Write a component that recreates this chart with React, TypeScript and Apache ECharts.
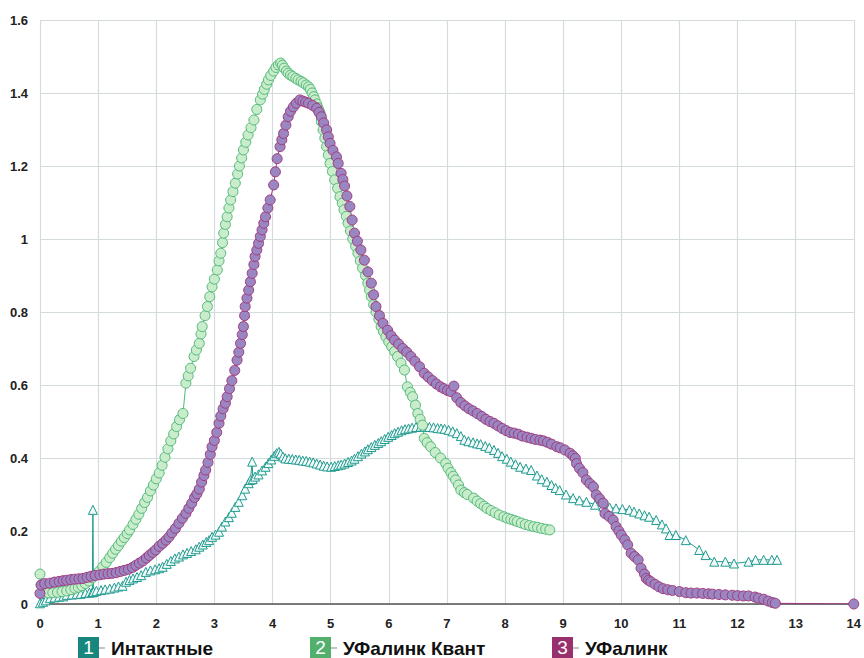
import React, { useEffect, useRef } from "react";
import * as echarts from "echarts";

const xTicks = { min: 0, max: 14, interval: 1 };
const yTicks = { min: 0, max: 1.6, interval: 0.2 };

const legendNames = ["Интактные", "УФалинк Квант", "УФалинк"];
const legendNumbers = ["1", "2", "3"];

const intact: number[][] = [
  [0,0.002],[0.05,0.006],[0.1,0.01],[0.17,0.016],[0.25,0.018],[0.33,0.02],[0.4,0.021],[0.46,0.025],[0.55,0.026],[0.63,0.027],[0.7,0.028],[0.78,0.03],[0.85,0.031],[0.9,0.032],[0.91,0.258],[0.92,0.033],[0.97,0.036],[1.05,0.038],[1.12,0.04],[1.2,0.042],[1.28,0.045],[1.35,0.048],[1.42,0.05],[1.48,0.061],[1.54,0.066],[1.6,0.07],[1.67,0.074],[1.74,0.079],[1.82,0.088],[1.9,0.092],[1.98,0.095],[2.05,0.098],[2.11,0.102],[2.18,0.11],[2.25,0.118],[2.32,0.125],[2.39,0.13],[2.46,0.136],[2.53,0.14],[2.6,0.145],[2.68,0.15],[2.74,0.157],[2.8,0.163],[2.86,0.17],[2.91,0.175],[2.96,0.184],[3.02,0.19],[3.08,0.198],[3.13,0.212],[3.19,0.226],[3.25,0.238],[3.3,0.25],[3.36,0.266],[3.42,0.28],[3.48,0.298],[3.53,0.316],[3.59,0.331],[3.62,0.34],[3.65,0.39],[3.66,0.342],[3.7,0.349],[3.76,0.355],[3.82,0.366],[3.88,0.376],[3.93,0.386],[3.98,0.396],[4.03,0.406],[4.07,0.413],[4.11,0.417],[4.14,0.412],[4.18,0.404],[4.22,0.399],[4.28,0.398],[4.34,0.397],[4.4,0.396],[4.46,0.395],[4.52,0.393],[4.58,0.392],[4.64,0.39],[4.7,0.388],[4.76,0.385],[4.82,0.382],[4.88,0.379],[4.94,0.377],[5.01,0.376],[5.07,0.378],[5.13,0.38],[5.18,0.382],[5.24,0.385],[5.3,0.389],[5.36,0.393],[5.41,0.398],[5.47,0.405],[5.53,0.412],[5.59,0.418],[5.64,0.424],[5.7,0.43],[5.76,0.436],[5.82,0.441],[5.87,0.446],[5.93,0.452],[5.99,0.458],[6.05,0.463],[6.1,0.468],[6.16,0.472],[6.22,0.476],[6.28,0.479],[6.34,0.481],[6.4,0.483],[6.47,0.485],[6.55,0.486],[6.62,0.486],[6.7,0.485],[6.77,0.484],[6.84,0.482],[6.9,0.481],[6.96,0.48],[7.03,0.477],[7.1,0.473],[7.17,0.468],[7.24,0.46],[7.3,0.45],[7.37,0.446],[7.45,0.443],[7.52,0.44],[7.58,0.438],[7.66,0.433],[7.73,0.428],[7.81,0.422],[7.88,0.414],[7.95,0.405],[8.03,0.398],[8.1,0.39],[8.18,0.383],[8.26,0.376],[8.36,0.371],[8.45,0.367],[8.55,0.352],[8.63,0.342],[8.72,0.335],[8.8,0.326],[8.87,0.318],[8.94,0.312],[9.05,0.3],[9.17,0.29],[9.28,0.284],[9.4,0.28],[9.55,0.272],[9.69,0.267],[9.8,0.264],[9.91,0.262],[10.02,0.26],[10.14,0.258],[10.22,0.253],[10.31,0.248],[10.4,0.243],[10.48,0.239],[10.6,0.23],[10.7,0.218],[10.77,0.207],[10.83,0.189],[10.94,0.189],[11.11,0.175],[11.34,0.148],[11.45,0.134],[11.6,0.116],[11.79,0.116],[11.94,0.111],[12.19,0.116],[12.31,0.121],[12.45,0.121],[12.59,0.121],[12.68,0.121]
];

const kvant: number[][] = [
  [0,0.082],[0.02,0.052],[0.08,0.035],[0.15,0.03],[0.22,0.031],[0.3,0.032],[0.38,0.034],[0.46,0.036],[0.53,0.039],[0.6,0.043],[0.66,0.046],[0.72,0.05],[0.78,0.056],[0.84,0.063],[0.9,0.072],[0.96,0.08],[1.02,0.09],[1.08,0.102],[1.14,0.114],[1.2,0.127],[1.25,0.139],[1.3,0.15],[1.35,0.16],[1.4,0.172],[1.45,0.182],[1.5,0.193],[1.54,0.203],[1.6,0.218],[1.65,0.232],[1.7,0.246],[1.75,0.262],[1.8,0.278],[1.85,0.292],[1.9,0.31],[1.95,0.326],[2.0,0.343],[2.05,0.359],[2.1,0.38],[2.15,0.402],[2.2,0.425],[2.25,0.447],[2.3,0.466],[2.35,0.486],[2.4,0.505],[2.46,0.522],[2.51,0.605],[2.55,0.625],[2.59,0.646],[2.65,0.678],[2.69,0.696],[2.74,0.714],[2.77,0.74],[2.79,0.76],[2.84,0.79],[2.88,0.815],[2.92,0.842],[2.96,0.869],[3.0,0.89],[3.05,0.915],[3.08,0.94],[3.11,0.961],[3.14,0.99],[3.16,1.016],[3.19,1.04],[3.22,1.061],[3.25,1.085],[3.28,1.107],[3.32,1.13],[3.36,1.153],[3.4,1.178],[3.43,1.2],[3.47,1.222],[3.5,1.244],[3.54,1.265],[3.58,1.285],[3.63,1.305],[3.68,1.326],[3.73,1.355],[3.79,1.381],[3.83,1.397],[3.86,1.41],[3.9,1.424],[3.93,1.436],[3.97,1.448],[4.02,1.46],[4.06,1.47],[4.1,1.477],[4.14,1.482],[4.17,1.476],[4.2,1.468],[4.24,1.46],[4.27,1.454],[4.31,1.449],[4.35,1.445],[4.4,1.44],[4.44,1.436],[4.49,1.432],[4.53,1.428],[4.58,1.422],[4.62,1.417],[4.65,1.41],[4.68,1.4],[4.71,1.39],[4.73,1.381],[4.76,1.37],[4.78,1.36],[4.8,1.352],[4.82,1.344],[4.84,1.322],[4.87,1.299],[4.9,1.276],[4.93,1.253],[4.96,1.23],[4.99,1.207],[5.03,1.185],[5.07,1.162],[5.12,1.139],[5.16,1.116],[5.2,1.098],[5.23,1.08],[5.27,1.062],[5.3,1.043],[5.34,1.022],[5.38,1.0],[5.43,0.98],[5.47,0.961],[5.51,0.94],[5.55,0.92],[5.6,0.9],[5.64,0.879],[5.67,0.86],[5.7,0.842],[5.74,0.82],[5.78,0.8],[5.83,0.78],[5.87,0.76],[5.91,0.746],[5.95,0.732],[6.0,0.718],[6.05,0.705],[6.1,0.692],[6.15,0.678],[6.21,0.66],[6.27,0.641],[6.32,0.595],[6.37,0.58],[6.41,0.568],[6.46,0.545],[6.5,0.522],[6.54,0.506],[6.58,0.49],[6.61,0.454],[6.66,0.442],[6.72,0.431],[6.8,0.415],[6.89,0.4],[6.98,0.385],[7.02,0.372],[7.07,0.36],[7.11,0.35],[7.15,0.34],[7.2,0.326],[7.24,0.312],[7.3,0.305],[7.35,0.3],[7.46,0.29],[7.52,0.282],[7.58,0.275],[7.64,0.268],[7.69,0.262],[7.76,0.256],[7.83,0.25],[7.9,0.244],[7.98,0.239],[8.04,0.235],[8.1,0.232],[8.16,0.229],[8.21,0.226],[8.28,0.222],[8.35,0.218],[8.42,0.215],[8.49,0.212],[8.56,0.21],[8.63,0.207],[8.7,0.205],[8.77,0.203]
];

const ufalink: number[][] = [
  [0,0.029],[0.02,0.052],[0.08,0.056],[0.17,0.057],[0.25,0.06],[0.33,0.062],[0.4,0.064],[0.46,0.065],[0.53,0.067],[0.6,0.068],[0.67,0.069],[0.74,0.07],[0.81,0.073],[0.88,0.076],[0.95,0.078],[1.03,0.08],[1.1,0.082],[1.17,0.083],[1.24,0.084],[1.31,0.086],[1.38,0.089],[1.45,0.092],[1.52,0.095],[1.59,0.1],[1.65,0.106],[1.71,0.112],[1.77,0.118],[1.83,0.126],[1.88,0.133],[1.94,0.141],[1.99,0.148],[2.05,0.158],[2.11,0.166],[2.17,0.175],[2.22,0.184],[2.27,0.195],[2.33,0.207],[2.39,0.221],[2.45,0.235],[2.51,0.248],[2.56,0.262],[2.61,0.276],[2.66,0.292],[2.7,0.302],[2.74,0.315],[2.78,0.334],[2.82,0.352],[2.85,0.367],[2.89,0.388],[2.93,0.41],[2.96,0.431],[3.0,0.448],[3.04,0.47],[3.08,0.495],[3.11,0.515],[3.15,0.535],[3.19,0.55],[3.22,0.568],[3.26,0.59],[3.3,0.612],[3.35,0.64],[3.39,0.668],[3.42,0.69],[3.45,0.714],[3.48,0.738],[3.5,0.76],[3.52,0.79],[3.53,0.815],[3.56,0.838],[3.59,0.86],[3.62,0.883],[3.65,0.906],[3.68,0.93],[3.7,0.952],[3.73,0.97],[3.76,0.988],[3.79,1.007],[3.82,1.025],[3.85,1.043],[3.88,1.061],[3.92,1.085],[3.96,1.107],[4.02,1.148],[4.05,1.184],[4.08,1.22],[4.13,1.253],[4.16,1.272],[4.19,1.289],[4.23,1.312],[4.27,1.335],[4.31,1.35],[4.36,1.362],[4.41,1.372],[4.47,1.381],[4.52,1.378],[4.57,1.375],[4.62,1.372],[4.69,1.366],[4.76,1.358],[4.8,1.347],[4.84,1.335],[4.88,1.318],[4.93,1.299],[4.96,1.28],[4.99,1.262],[5.04,1.243],[5.1,1.225],[5.13,1.207],[5.18,1.18],[5.21,1.163],[5.24,1.145],[5.28,1.118],[5.33,1.089],[5.37,1.052],[5.41,1.016],[5.46,0.994],[5.52,0.97],[5.58,0.942],[5.64,0.91],[5.7,0.879],[5.74,0.847],[5.78,0.815],[5.84,0.79],[5.9,0.769],[5.98,0.75],[6.04,0.735],[6.1,0.723],[6.17,0.712],[6.24,0.7],[6.31,0.69],[6.38,0.678],[6.45,0.665],[6.53,0.65],[6.61,0.632],[6.68,0.622],[6.75,0.612],[6.82,0.603],[6.89,0.595],[6.95,0.59],[7.01,0.585],[7.07,0.582],[7.12,0.597],[7.17,0.565],[7.24,0.552],[7.31,0.543],[7.38,0.535],[7.45,0.529],[7.52,0.522],[7.6,0.514],[7.67,0.506],[7.74,0.5],[7.81,0.495],[7.88,0.488],[7.95,0.481],[8.02,0.475],[8.09,0.47],[8.16,0.468],[8.23,0.465],[8.3,0.46],[8.38,0.457],[8.45,0.454],[8.52,0.451],[8.6,0.449],[8.66,0.447],[8.73,0.443],[8.8,0.438],[8.89,0.431],[8.95,0.428],[9.03,0.422],[9.12,0.413],[9.17,0.406],[9.21,0.399],[9.23,0.385],[9.28,0.372],[9.34,0.36],[9.4,0.34],[9.46,0.33],[9.52,0.321],[9.57,0.299],[9.63,0.288],[9.69,0.276],[9.72,0.248],[9.79,0.24],[9.86,0.23],[9.91,0.212],[9.96,0.2],[10.0,0.189],[10.06,0.176],[10.11,0.162],[10.17,0.139],[10.23,0.13],[10.29,0.121],[10.34,0.098],[10.4,0.082],[10.43,0.07],[10.47,0.065],[10.51,0.061],[10.58,0.054],[10.65,0.047],[10.72,0.042],[10.8,0.039],[10.88,0.037],[11.0,0.034],[11.11,0.031],[11.2,0.03],[11.3,0.03],[11.4,0.029],[11.5,0.028],[11.57,0.027],[11.68,0.026],[11.79,0.025],[11.91,0.024],[12.0,0.023],[12.1,0.022],[12.19,0.022],[12.3,0.019],[12.36,0.016],[12.45,0.013],[12.53,0.008],[12.6,0.004],[12.65,0.002],[14,0]
];

const TEAL = "#1f9a8f";
const GREEN_STROKE = "#52b97a";
const GREEN_FILL = "#c9ecca";
const PURPLE_STROKE = "#a13a7f";
const PURPLE_FILL = "#9a86c0";
const LEG_COLORS = ["#17877d", "#52b06c", "#98306e"];
const FONT = "Arial, 'Liberation Sans', sans-serif";

export default function App() {
  const ref = useRef<HTMLDivElement>(null);
  useEffect(() => {
    if (!ref.current) return;
    const chart = echarts.init(ref.current, null, { renderer: "svg" });
    const legX = [78, 310, 552];
    const graphics: any[] = [];
    legendNames.forEach((name, i) => {
      const x = legX[i];
      graphics.push({
        type: "rect",
        shape: { x, y: 637, width: 21, height: 21 },
        style: { fill: LEG_COLORS[i] },
      });
      graphics.push({
        type: "text",
        x: x + 10.5,
        y: 647.5,
        style: {
          text: legendNumbers[i],
          fill: "#ffffff",
          font: `19px ${FONT}`,
          align: "center",
          verticalAlign: "middle",
        },
      });
      graphics.push({
        type: "line",
        shape: { x1: x + 21, y1: 648, x2: x + 27, y2: 648 },
        style: { stroke: "#888", lineWidth: 1 },
      });
      graphics.push({
        type: "text",
        x: x + 33,
        y: 648,
        style: {
          text: name,
          fill: "#111",
          font: `bold 19px ${FONT}`,
          align: "left",
          verticalAlign: "middle",
        },
      });
    });

    const mk = (name: string, data: number[][], symbol: string, size: number, fill: string, stroke: string, line: string) => ({
      name,
      type: "line",
      data,
      symbol,
      symbolSize: size,
      showAllSymbol: true,
      lineStyle: { color: line, width: 1 },
      itemStyle: { color: fill, borderColor: stroke, borderWidth: 1 },
      emphasis: { disabled: true },
    });

    chart.setOption({
      animation: false,
      grid: { left: 40, right: 6, top: 20, bottom: 54, containLabel: false },
      xAxis: {
        type: "value",
        min: xTicks.min,
        max: xTicks.max,
        interval: xTicks.interval,
        axisLine: { show: true, lineStyle: { color: "#555", width: 1.5 } },
        axisTick: { show: false },
        axisLabel: { color: "#222", fontWeight: "bold", fontSize: 13, fontFamily: FONT, margin: 13 },
        splitLine: { show: true, lineStyle: { color: "#d3dbdb", width: 1.2 } },
      },
      yAxis: {
        type: "value",
        min: yTicks.min,
        max: yTicks.max,
        interval: yTicks.interval,
        axisLine: { show: false },
        axisTick: { show: false },
        axisLabel: { color: "#222", fontWeight: "bold", fontSize: 13, fontFamily: FONT, margin: 12 },
        splitLine: { show: true, lineStyle: { color: "#d3dbdb", width: 1.2 } },
      },
      series: [
        mk(legendNames[0], intact, "triangle", 9, "#f2fbf9", TEAL, TEAL),
        mk(legendNames[1], kvant, "circle", 10, GREEN_FILL, GREEN_STROKE, GREEN_STROKE),
        mk(legendNames[2], ufalink, "circle", 10, PURPLE_FILL, PURPLE_STROKE, PURPLE_STROKE),
      ],
      graphic: graphics,
    });
    return () => chart.dispose();
  }, []);
  return (
    <div
      ref={ref}
      style={{ position: "fixed", left: 0, top: 0, width: 864, height: 658, background: "#fff" }}
    />
  );
}
